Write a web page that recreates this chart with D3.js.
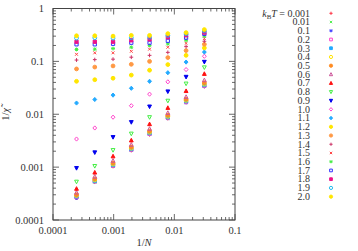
<!DOCTYPE html>
<html>
<head>
<meta charset="utf-8">
<script src="https://cdn.jsdelivr.net/npm/d3@7"></script>
<style>
  body { margin: 0; background: #fff; }
  text { font-family: "Liberation Serif", "DejaVu Serif", serif; fill: #333; }
</style>
</head>
<body>
<div id="chart"></div>
<script>
// 1/N for N = 4096 ... 32
const invN = [1/4096, 1/2048, 1/1024, 1/512, 1/256, 1/128, 1/64, 1/32]

const temps = ["0.001", "0.01", "0.1", "0.2", "0.3", "0.4", "0.5", "0.6", "0.7", "0.8", "0.9",
  "1.0", "1.1", "1.2", "1.3", "1.4", "1.5", "1.6", "1.7", "1.8", "1.9", "2.0"]

// 1/chi values, one array per temperature
const t0001 = [0.00026, 0.00052, 0.00103, 0.00206, 0.0041, 0.0083, 0.0166, 0.0333]
const t001 = [0.00026, 0.00052, 0.00104, 0.00207, 0.00413, 0.0083, 0.0166, 0.0334]
const t01 = [0.00026, 0.00053, 0.00105, 0.0021, 0.0042, 0.0084, 0.0168, 0.0338]
const t02 = [0.00027, 0.00054, 0.00107, 0.00214, 0.00428, 0.0086, 0.0171, 0.0345]
const t03 = [0.00028, 0.00055, 0.0011, 0.0022, 0.0044, 0.0088, 0.0176, 0.0355]
const t04 = [0.00029, 0.00057, 0.00114, 0.00228, 0.00456, 0.0091, 0.0183, 0.037]
const t05 = [0.0003, 0.0006, 0.0012, 0.0024, 0.0048, 0.0096, 0.0193, 0.0395]
const t06 = [0.00033, 0.00066, 0.00132, 0.00265, 0.0053, 0.0106, 0.0213, 0.044]
const t07 = [0.00039, 0.00079, 0.0016, 0.0032, 0.0065, 0.0132, 0.0275, 0.058]
const t08 = [0.00053, 0.00105, 0.0021, 0.0043, 0.0088, 0.018, 0.038, 0.077]
const t09 = [0.00096, 0.0019, 0.0037, 0.0071, 0.014, 0.027, 0.051, 0.098]
const t10 = [0.0034, 0.0055, 0.0088, 0.0145, 0.024, 0.041, 0.07, 0.125]
const t11 = [0.0163, 0.019, 0.023, 0.031, 0.042, 0.061, 0.097, 0.15]
const t12 = [0.042, 0.045, 0.048, 0.055, 0.068, 0.087, 0.13, 0.18]
const t13 = [0.072, 0.078, 0.082, 0.088, 0.1, 0.118, 0.16, 0.21]
const t14 = [0.106, 0.108, 0.11, 0.12, 0.13, 0.148, 0.19, 0.24]
const t15 = [0.136, 0.145, 0.145, 0.155, 0.17, 0.185, 0.22, 0.27]
const t16 = [0.168, 0.17, 0.175, 0.185, 0.2, 0.215, 0.25, 0.3]
const t17 = [0.21, 0.21, 0.215, 0.225, 0.225, 0.245, 0.28, 0.33]
const t18 = [0.235, 0.235, 0.235, 0.25, 0.26, 0.285, 0.31, 0.35]
const t19 = [0.275, 0.28, 0.275, 0.28, 0.285, 0.31, 0.33, 0.375]
const t20 = [0.305, 0.305, 0.3, 0.31, 0.31, 0.335, 0.35, 0.4]
const values = [t0001, t001, t01, t02, t03, t04, t05, t06, t07, t08, t09,
  t10, t11, t12, t13, t14, t15, t16, t17, t18, t19, t20]

const xTicks = [0.0001, 0.001, 0.01, 0.1]
const yTicks = [0.0001, 0.001, 0.01, 0.1, 1]

// marker style per series: [shape, colour]
const styles = [
  ["plus", "#ff3344"], ["times", "#55ee55"], ["star", "#4444ff"], ["square", "#ff44cc"],
  ["squareF", "#22aaff"], ["circle", "#ffe600"], ["circleF", "#ff8c22"], ["tri", "#cc5599"],
  ["triF", "#ff1111"], ["triDown", "#44ee44"], ["triDownF", "#0000ee"], ["diamond", "#ff44cc"],
  ["diamondF", "#22aaff"], ["circleF", "#ffe600"], ["circleF", "#ff9944"], ["plus", "#cc3366"],
  ["times", "#ff4444"], ["star", "#44ee44"], ["square", "#3333ff"], ["squareF", "#ee1188"],
  ["circle", "#22bbee"], ["circleF", "#ffe600"]
]

const margin = {top: 8.5, right: 123, bottom: 31, left: 53}
const W = 358, H = 251
const width = W - margin.left - margin.right
const height = H - margin.top - margin.bottom

const svg = d3.select("#chart").append("svg")
    .attr("width", W)
    .attr("height", H)
const g = svg.append("g")
    .attr("transform", "translate(" + margin.left + "," + margin.top + ")")

const x = d3.scaleLog().domain([0.0001, 0.1]).range([0, width])
const y = d3.scaleLog().domain([0.0001, 1]).range([height, 0])

function markerPath(shape, s) {
  const p = d3.path()
  if (shape === "plus" || shape === "star") {
    p.moveTo(-s, 0); p.lineTo(s, 0); p.moveTo(0, -s); p.lineTo(0, s)
  }
  if (shape === "times" || shape === "star") {
    const t = s * 0.75
    p.moveTo(-t, -t); p.lineTo(t, t); p.moveTo(-t, t); p.lineTo(t, -t)
  }
  if (shape.startsWith("square")) {
    const t = s * 0.85
    p.rect(-t, -t, 2 * t, 2 * t)
  }
  if (shape.startsWith("circle")) {
    p.moveTo(s, 0); p.arc(0, 0, s, 0, 2 * Math.PI)
  }
  if (shape === "tri" || shape === "triF") {
    p.moveTo(0, -s * 1.1); p.lineTo(s, s * 0.8); p.lineTo(-s, s * 0.8); p.closePath()
  }
  if (shape.startsWith("triDown")) {
    p.moveTo(0, s * 1.1); p.lineTo(s, -s * 0.8); p.lineTo(-s, -s * 0.8); p.closePath()
  }
  if (shape.startsWith("diamond")) {
    p.moveTo(0, -s * 1.1); p.lineTo(s, 0); p.lineTo(0, s * 1.1); p.lineTo(-s, 0); p.closePath()
  }
  return p.toString()
}

function drawMarker(sel, st, s) {
  const shape = st[0], col = st[1]
  const filled = shape.endsWith("F")
  sel.append("path")
    .attr("d", markerPath(shape, s))
    .attr("fill", filled ? col : "none")
    .attr("stroke", col)
    .attr("stroke-width", 1)
}

// frame and ticks (all four sides, pointing inward)
const tickCol = "#444"
const minorX = [], minorY = []
for (let e = -4; e < -1; e++) for (let k = 2; k < 10; k++) minorX.push(k * Math.pow(10, e))
for (let e = -4; e < 0; e++) for (let k = 2; k < 10; k++) minorY.push(k * Math.pow(10, e))

const ticks = g.append("g").attr("stroke", tickCol).attr("stroke-width", 0.8)
function tickLines(vals, len, horizontal) {
  vals.forEach(v => {
    if (horizontal) {
      const px = x(v)
      ticks.append("line").attr("x1", px).attr("x2", px).attr("y1", height).attr("y2", height - len)
      ticks.append("line").attr("x1", px).attr("x2", px).attr("y1", 0).attr("y2", len)
    } else {
      const py = y(v)
      ticks.append("line").attr("y1", py).attr("y2", py).attr("x1", 0).attr("x2", len)
      ticks.append("line").attr("y1", py).attr("y2", py).attr("x1", width).attr("x2", width - len)
    }
  })
}
tickLines(xTicks, 6, true)
tickLines(minorX, 3, true)
tickLines(yTicks, 6, false)
tickLines(minorY, 3, false)

g.append("rect")
    .attr("width", width).attr("height", height)
    .attr("fill", "none").attr("stroke", tickCol).attr("stroke-width", 1)

// tick labels
g.selectAll(".xl").data(xTicks).enter().append("text")
    .attr("x", d => x(d)).attr("y", height + 14)
    .attr("text-anchor", "middle").attr("font-size", 10.5)
    .text(d => String(d))
g.selectAll(".yl").data(yTicks).enter().append("text")
    .attr("x", -9).attr("y", d => y(d) + 3.5)
    .attr("text-anchor", "end").attr("font-size", 10.5)
    .text(d => String(d))

// axis titles
g.append("text")
    .attr("x", width / 2).attr("y", height + 26)
    .attr("text-anchor", "middle").attr("font-size", 10.5)
    .html('1/<tspan font-style="italic">N</tspan>')
g.append("text")
    .attr("transform", "translate(" + (-44) + "," + (height / 2) + ") rotate(-90)")
    .attr("text-anchor", "middle").attr("font-size", 10.5)
    .html('1/<tspan font-style="italic">\u03C7\u0303</tspan>')

// data points
values.forEach((vals, i) => {
  vals.forEach((v, j) => {
    const m = g.append("g").attr("transform", "translate(" + x(invN[j]) + "," + y(v) + ")")
    drawMarker(m, styles[i], 1.9)
  })
})

// legend
const leg = svg.append("g")
temps.forEach((t, i) => {
  const ly = 13.3 + i * 8.73
  const txt = leg.append("text")
      .attr("x", 310).attr("y", ly + 3.3)
      .attr("text-anchor", "end").attr("font-size", 10)
  if (i === 0) {
    txt.html('<tspan font-style="italic">k</tspan><tspan font-size="7" dy="2">B</tspan><tspan font-style="italic" dy="-2">T</tspan> = ' + t)
  } else {
    txt.text(t)
  }
  const m = leg.append("g").attr("transform", "translate(331," + ly + ")")
  drawMarker(m, styles[i], 1.6)
})
</script>
</body>
</html>
